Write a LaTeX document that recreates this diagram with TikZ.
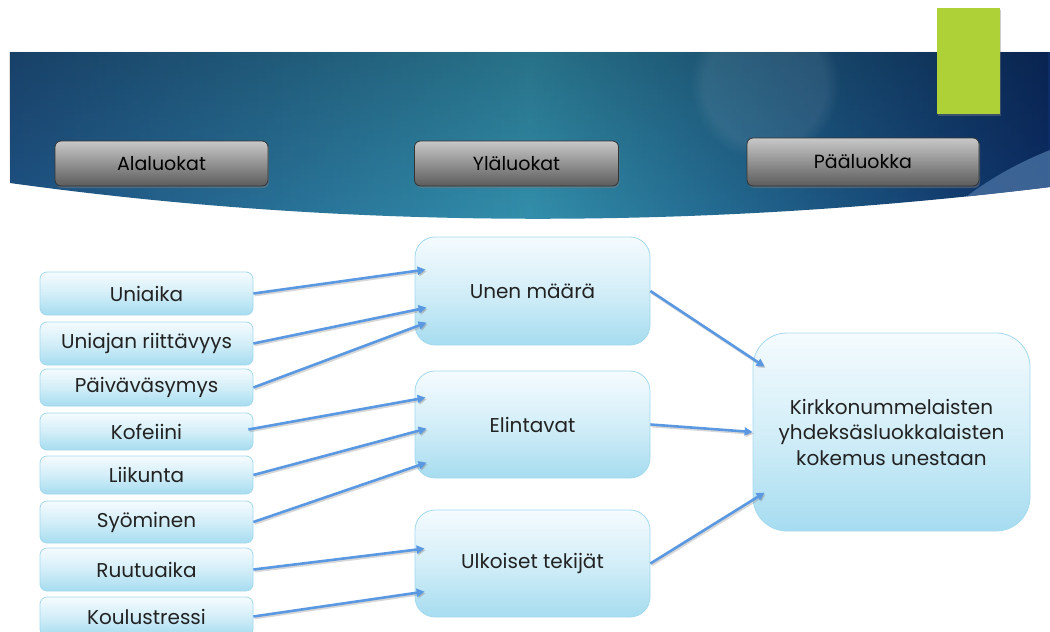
\documentclass[tikz,border=0pt]{standalone}
\usepackage{fontspec}
\setmainfont{Poppins}
\usetikzlibrary{arrows.meta,shadows,fadings,calc}
\definecolor{bannerL}{HTML}{1F5385}
\definecolor{bannerM}{HTML}{3391AE}
\definecolor{bannerR}{HTML}{0C2D66}
\definecolor{swoosh}{HTML}{41699A}
\definecolor{limeg}{HTML}{ADD136}
\definecolor{btnTop}{HTML}{C8C8C8}
\definecolor{btnBot}{HTML}{5C5C5C}
\definecolor{btnLine}{HTML}{333333}
\definecolor{boxTop}{HTML}{F5FBFE}
\definecolor{boxMid}{HTML}{D3EEF8}
\definecolor{boxBot}{HTML}{A6DCF0}
\definecolor{boxLine}{HTML}{A3D9EE}
\definecolor{arrowc}{HTML}{5A98E2}
\definecolor{txt}{HTML}{222222}
\tikzfading[name=mydown, top color=transparent!0, bottom color=transparent!100]
\tikzset{
  hdr/.style={draw=btnLine, line width=0.8pt, rounded corners=6pt,
    top color=btnTop, bottom color=btnBot, text=black,
    font=\fontsize{19}{22}\selectfont,
    drop shadow={shadow xshift=1pt, shadow yshift=-2pt, opacity=0.45}},
  lbox/.style={draw=boxLine, line width=0.8pt, rounded corners=7pt,
    top color=boxTop, bottom color=boxBot, middle color=boxMid,
    text=txt, font=\fontsize{20}{23}\selectfont,
    minimum width=213pt, inner sep=0pt},
  mbox/.style={lbox, rounded corners=20pt, minimum width=235pt, minimum height=107pt},
  rbox/.style={lbox, rounded corners=34pt, minimum width=277pt, minimum height=198pt,
    align=center, font=\fontsize{20}{25.5}\selectfont},
  arr/.style={draw=arrowc, line width=2.6pt, -{Triangle[length=8pt,width=8pt]},
    preaction={draw=black!45, opacity=0.35, line width=2.6pt,
      transform canvas={shift={(1.2,1.6)}}}}
}
\begin{document}
\begin{tikzpicture}[x=1pt,y=-1pt]
\useasboundingbox (0,0) rectangle (1050,632);
\clip (0,0) rectangle (1050,632);
% banner
\def\bannerpath{(10,52) -- (1050,52) -- (1050,187) .. controls (700,230) and (350,230) .. (10,183) -- cycle}
\shade[left color=bannerL, right color=bannerR, middle color=bannerM] \bannerpath;
\fill[black, opacity=0.22, path fading=mydown] \bannerpath;
\begin{scope}
  \clip \bannerpath;
  \fill[white, opacity=0.08, path fading=circle with fuzzy edge 20 percent] (765,85) circle (75);
  \fill[swoosh, opacity=0.9] (962,200) .. controls (990,178) and (1020,162) .. (1050,150) -- (1050,200) -- cycle;
\end{scope}
% green tab
\fill[limeg, drop shadow={shadow xshift=0.5pt, shadow yshift=-1.5pt, opacity=0.4}] (937,8) rectangle (1000,114);
% header buttons
\node[hdr, minimum width=213pt, minimum height=45pt] (h1) at (161.5,163.5) {Alaluokat};
\node[hdr, minimum width=204pt, minimum height=45pt] (h2) at (516.5,163.5) {Yläluokat};
\node[hdr, minimum width=232pt, minimum height=48pt] (h3) at (863,162) {Pääluokka};
% left boxes
\node[lbox, minimum height=43pt] (a1) at (146.5,293.5) {Uniaika};
\node[lbox, minimum height=43pt] (a2) at (146.5,343.5) {Uniajan riittävyys};
\node[lbox, minimum height=37pt] (a3) at (146.5,387.5) {Päiväväsymys};
\node[lbox, minimum height=37pt] (a4) at (146.5,431.5) {Kofeiini};
\node[lbox, minimum height=38pt] (a5) at (146.5,475) {Liikunta};
\node[lbox, minimum height=42pt] (a6) at (146.5,522) {Syöminen};
\node[lbox, minimum height=43pt] (a7) at (146.5,569.5) {Ruutuaika};
\node[lbox, minimum height=39pt] (a8) at (146.5,616.5) {Koulustressi};
% middle boxes
\node[mbox, minimum height=108pt] (m1) at (532.5,291) {Unen määrä};
\node[mbox] (m2) at (532.5,424.5) {Elintavat};
\node[mbox] (m3) at (532.5,563.5) {Ulkoiset tekijät};
% right box
\node[rbox] (r) at (891.5,432) {Kirkkonummelaisten\\yhdeksäsluokkalaisten\\kokemus unestaan};
% arrows left -> middle
\draw[arr] (a1.east) -- ($(m1.north west)+(11,33)$);
\draw[arr] (a2.east) -- ($(m1.north west)+(12,71)$);
\draw[arr] (a3.east) -- ($(m1.north west)+(12,86)$);
\draw[arr] ($(a4.east)+(-5,-2)$) -- ($(m2.north west)+(11,27)$);
\draw[arr] (a5.east) -- ($(m2.north west)+(12,58)$);
\draw[arr] (a6.east) -- ($(m2.north west)+(12,92)$);
\draw[arr] (a7.east) -- ($(m3.north west)+(10,39)$);
\draw[arr] (a8.east) -- ($(m3.north west)+(10,82)$);
% arrows middle -> right
\draw[arr] (m1.east) -- ($(r.north west)+(12,34)$);
\draw[arr] (m2.east) -- (r.west);
\draw[arr] (m3.east) -- ($(r.north west)+(12,160)$);
\end{tikzpicture}
\end{document}
